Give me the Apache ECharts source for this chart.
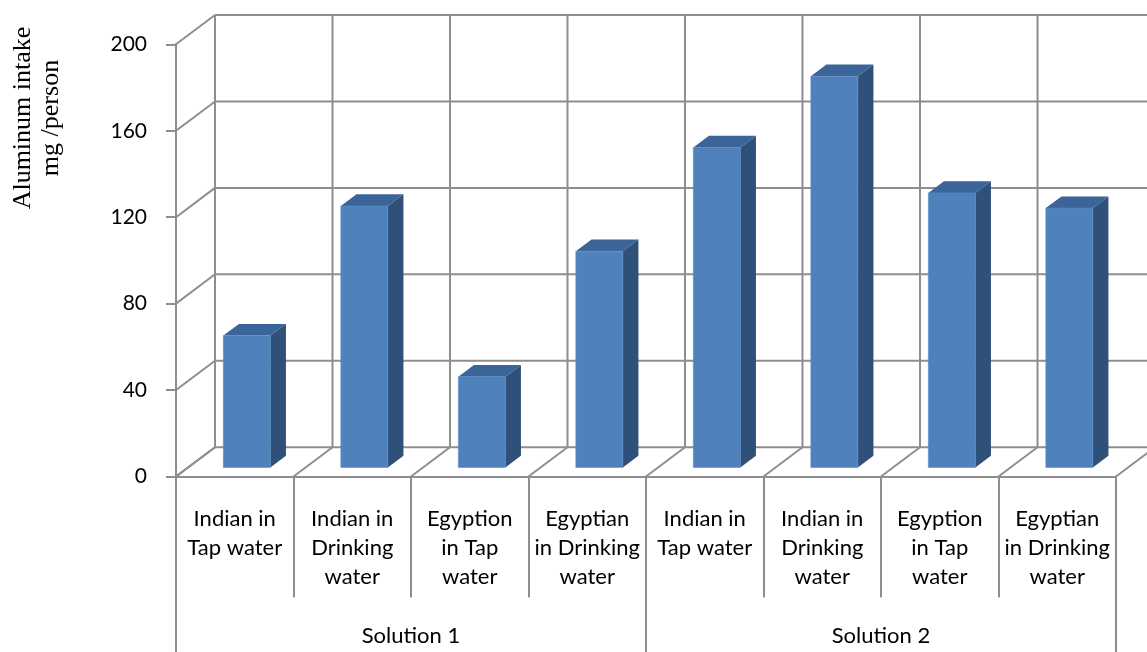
<!DOCTYPE html>
<html>
<head>
<meta charset="utf-8">
<script src="https://cdn.jsdelivr.net/npm/echarts@6/dist/echarts.min.js"></script>
<style>
  html, body { margin: 0; padding: 0; background: #fff; }
  #chart { width: 1147px; height: 652px; }
</style>
</head>
<body>
<div id="chart"></div>
<script>
// Aluminum intake per person, by population and water source, for two solutions
const categories = [
  'Indian in\nTap water', 'Indian in\nDrinking\nwater', 'Egyption\nin Tap\nwater', 'Egyptian\nin Drinking\nwater',
  'Indian in\nTap water', 'Indian in\nDrinking\nwater', 'Egyption\nin Tap\nwater', 'Egyptian\nin Drinking\nwater'
];
const groups = ['Solution 1', 'Solution 2'];
const intake = [61, 121, 42, 100, 148, 181, 127, 120];
const yTicks = [0, 40, 80, 120, 160, 200];
const yTitle = 'Aluminum intake\nmg /person';

// oblique projection of the depth axis (pixels from front plane to back wall)
const DX = 39, DY = -29.3;
// bar placement inside the floor depth and band
const BAR_FRONT = 0.31, BAR_DEPTH = 0.4, BAR_RATIO = 0.4;
const GRID_COLOR = '#8e8e8e';
const FACE = '#4f81bd', SIDE = '#2f5079', TOP = '#3b6499';

const chart = echarts.init(document.getElementById('chart'), null, { renderer: 'canvas' });
const lineStyle = { stroke: GRID_COLOR, lineWidth: 2 };

function renderWalls(params, api) {
  const cs = params.coordSys;
  const y = api.coord([0, api.value(1)])[1];
  return {
    type: 'group',
    children: [
      { type: 'line', shape: { x1: cs.x, y1: y, x2: cs.x + DX, y2: y + DY }, style: lineStyle },
      { type: 'line', shape: { x1: cs.x + DX, y1: y + DY, x2: cs.x + cs.width + DX + 40, y2: y + DY }, style: lineStyle }
    ]
  };
}

function renderFloor(params, api) {
  const i = api.value(0);
  const base = api.coord([i, yTicks[0]]);
  const top = api.coord([i, yTicks[yTicks.length - 1]]);
  const bw = api.size([1, 0])[0];
  const edges = [base[0] - bw / 2];
  if (i === categories.length - 1) edges.push(base[0] + bw / 2);
  const children = [];
  edges.forEach(function (xb) {
    children.push({ type: 'line', shape: { x1: xb, y1: base[1], x2: xb + DX, y2: base[1] + DY }, style: lineStyle });
    children.push({ type: 'line', shape: { x1: xb + DX, y1: base[1] + DY, x2: xb + DX, y2: top[1] + DY }, style: lineStyle });
  });
  return { type: 'group', children: children };
}

function renderBar(params, api) {
  const i = api.value(0);
  const base = api.coord([i, 0]);
  const top = api.coord([i, api.value(1)]);
  const bw = api.size([1, 0])[0];
  const w = bw * BAR_RATIO;
  const fx = BAR_FRONT * DX, fy = BAR_FRONT * DY;
  const sx = BAR_DEPTH * DX, sy = BAR_DEPTH * DY;
  const x0 = base[0] - w / 2 + fx, x1 = x0 + w;
  const yb = base[1] + fy, yt = top[1] + fy;
  return {
    type: 'group',
    children: [
      { type: 'polygon', shape: { points: [[x1, yb], [x1, yt], [x1 + sx, yt + sy], [x1 + sx, yb + sy]] },
        style: { fill: SIDE } },
      { type: 'polygon', shape: { points: [[x0, yt], [x1, yt], [x1 + sx, yt + sy], [x0 + sx, yt + sy]] },
        style: { fill: TOP } },
      { type: 'rect', shape: { x: x0, y: yt, width: w, height: yb - yt },
        style: { fill: FACE, stroke: '#5b8cc6', lineWidth: 0.6 } }
    ]
  };
}

const labelFont = { fontFamily: 'Lato', fontSize: 22, color: '#000' };

chart.setOption({
  animation: false,
  backgroundColor: '#fff',
  grid: { left: 176, right: 31, top: 44.3, bottom: 175.5, containLabel: false, outerBoundsMode: 'none' },
  xAxis: [
    {
      type: 'category',
      data: categories,
      position: 'bottom',
      axisLine: { show: true, lineStyle: { color: GRID_COLOR, width: 2 } },
      axisTick: { show: true, length: 121, lineStyle: { color: GRID_COLOR, width: 2 } },
      axisLabel: Object.assign({ interval: 0, margin: 28, lineHeight: 29, align: 'center', hideOverlap: false }, labelFont),
      splitLine: { show: false }
    },
    {
      type: 'category',
      data: groups,
      position: 'bottom',
      offset: 0,
      axisLine: { show: false },
      axisTick: { show: true, length: 180, lineStyle: { color: GRID_COLOR, width: 2 } },
      axisLabel: Object.assign({ interval: 0, margin: 145, lineHeight: 29 }, labelFont),
      splitLine: { show: false }
    }
  ],
  yAxis: {
    type: 'value',
    min: yTicks[0],
    max: yTicks[yTicks.length - 1],
    interval: yTicks[1] - yTicks[0],
    axisLine: { show: true, lineStyle: { color: GRID_COLOR, width: 2 } },
    axisTick: { show: true, length: 10, lineStyle: { color: GRID_COLOR, width: 2 } },
    axisLabel: Object.assign({ margin: 29 }, labelFont, { fontSize: 21 }),
    splitLine: { show: false }
  },
  graphic: [
    {
      type: 'text',
      x: 37, y: 118,
      rotation: Math.PI / 2,
      style: {
        text: yTitle,
        font: '26px "Liberation Serif"',
        textAlign: 'center',
        textVerticalAlign: 'middle',
        lineHeight: 28,
        fill: '#000'
      }
    }
  ],
  series: [
    {
      type: 'custom', name: 'walls', xAxisIndex: 0, yAxisIndex: 0, silent: true, z: 1,
      renderItem: renderWalls,
      data: yTicks.map(function (v) { return [0, v]; })
    },
    {
      type: 'custom', name: 'floor', xAxisIndex: 0, yAxisIndex: 0, silent: true, z: 1,
      renderItem: renderFloor,
      data: categories.map(function (c, i) { return [i, 0]; })
    },
    {
      type: 'custom', name: 'intake', xAxisIndex: 0, yAxisIndex: 0, z: 3,
      renderItem: renderBar,
      data: intake.map(function (v, i) { return [i, v]; })
    }
  ]
});
</script>
</body>
</html>
